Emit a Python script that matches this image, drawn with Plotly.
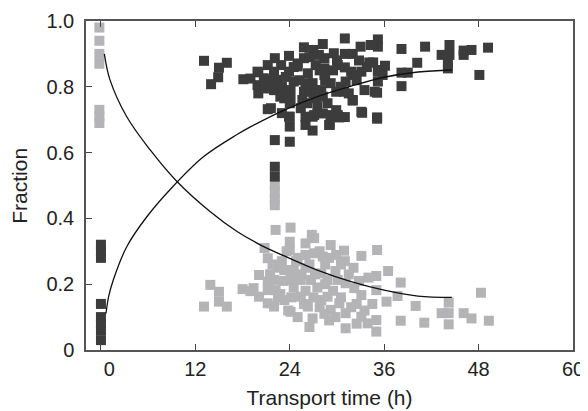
import plotly.graph_objects as go

# Light gray squares (x = transport time in h, y = fraction)
gray_x = [-0.2, -0.2, -0.2, -0.2, -0.2, -0.2, -0.2,
          13.9, 15.0, 13.1, 15.0, 16.0, 18.0, 19.0, 20.1, 20.1, 21.2, 21.2, 21.2, 22.0, 22.2,
          21.2, 22.0, 22.2, 22.1, 22.1, 22.1, 22.1,
          24.1, 24.0, 24.0, 26.0, 27.1, 29.2, 30.9, 35.1, 33.1, 29.9, 26.0, 27.1, 28.2,
          32.1, 35.0, 38.1, 48.3, 19.4, 23.3, 24.5, 24.1, 25.4, 26.7, 28.0, 28.8, 30.1,
          31.1, 32.2, 33.1, 35.0, 36.3, 37.7, 40.0, 44.2, 43.3, 44.2, 46.1, 47.1, 49.3,
          44.2, 41.1, 38.1, 23.3, 24.1, 25.4, 26.3, 26.9, 28.0, 29.2, 30.3, 31.1, 31.1,
          33.1, 33.9, 35.0, 35.0, 28.8,
          23.0, 24.8, 26.5, 22.5, 25.5, 27.5, 24.5, 22.8, 26.0, 29.5, 27.8, 25.0, 29.8,
          31.8, 23.6, 28.5, 31.5, 30.5, 34.0, 36.5, 20.8, 26.8,
          21.8, 23.2, 24.8, 26.0, 27.2, 28.5, 29.8, 31.0, 22.5, 24.2, 25.8, 27.0, 28.4,
          30.5, 32.5, 33.5, 34.5, 29.0, 25.0, 27.8, 32.8, 21.5, 23.8, 26.5, 29.0, 32.5]
gray_y = [0.98, 0.94, 0.90, 0.87, 0.73, 0.71, 0.69,
          0.198, 0.177, 0.132, 0.147, 0.132, 0.185, 0.179, 0.228, 0.162, 0.279, 0.208, 0.182, 0.213, 0.182,
          0.142, 0.132, 0.365, 0.50, 0.48, 0.46, 0.44,
          0.372, 0.329, 0.304, 0.324, 0.340, 0.319, 0.302, 0.304, 0.286, 0.289, 0.289, 0.294, 0.284,
          0.250, 0.225, 0.205, 0.174, 0.188, 0.243, 0.243, 0.213, 0.213, 0.213, 0.233, 0.213, 0.213,
          0.203, 0.188, 0.167, 0.182, 0.147, 0.164, 0.134, 0.144, 0.112, 0.112, 0.112, 0.096, 0.089,
          0.078, 0.083, 0.089, 0.152, 0.116, 0.162, 0.132, 0.096, 0.152, 0.122, 0.142, 0.112, 0.066,
          0.101, 0.081, 0.091, 0.056, 0.162,
          0.27, 0.27, 0.26, 0.25, 0.23, 0.19, 0.19, 0.17, 0.18, 0.18, 0.13, 0.10, 0.10,
          0.13, 0.30, 0.26, 0.23, 0.26, 0.22, 0.24, 0.31, 0.35,
          0.26, 0.21, 0.22, 0.25, 0.23, 0.20, 0.24, 0.27, 0.16, 0.16, 0.14, 0.16, 0.11,
          0.16, 0.14, 0.12, 0.14, 0.28, 0.28, 0.30, 0.21, 0.23, 0.12, 0.07, 0.09, 0.08]

# Dark squares
dark_x = [0.0, 0.0, 0.0, 0.0, 0.0, 0.0, 0.0, 0.0,
          13.1, 16.0, 15.0, 14.9, 14.0, 18.1, 19.0, 20.0, 20.0, 21.2, 22.1, 21.2, 21.6, 21.2,
          19.9, 20.7, 19.9, 20.9, 22.2,
          31.0, 27.0, 33.0, 34.3, 23.9, 29.6, 31.0, 32.0, 25.8, 28.4, 34.1, 22.9, 25.0, 27.3,
          30.1, 31.0, 33.1, 35.2, 22.0, 23.9, 26.3, 28.4, 32.0, 22.4, 24.5, 26.9, 29.2, 31.1,
          35.2, 22.0, 24.1, 25.8, 28.0, 29.9, 34.8, 23.3, 25.6, 27.3, 32.0, 21.6, 25.4, 27.5,
          29.9, 33.1, 23.9, 26.9, 30.3,
          35.2, 35.2, 38.2, 41.2, 44.3, 43.3, 44.3, 46.1, 47.1, 46.1, 49.2, 44.1, 44.1, 40.2,
          36.1, 35.2, 35.8, 38.2, 39.0, 48.1, 38.2, 35.1, 35.1, 34.6,
          32.0, 33.2, 35.1, 31.0, 29.1, 26.9, 24.0, 22.1, 22.1, 22.1, 24.0, 24.0, 26.0, 26.0,
          27.1, 28.2, 29.2, 30.1, 29.0,
          27.7, 28.4, 31.8, 25.0, 26.3, 23.3, 27.1, 30.9, 24.1, 28.2,
          23.0, 24.5, 26.0, 27.0, 28.5, 29.5, 30.5, 32.5, 33.5, 23.5, 25.2, 27.8, 30.0,
          26.5, 24.0, 26.2, 28.8, 31.5, 22.8, 33.8, 32.8, 21.8, 25.8, 28.2, 23.0]
dark_y = [0.32, 0.30, 0.28, 0.14, 0.10, 0.08, 0.06, 0.03,
          0.879, 0.873, 0.858, 0.829, 0.808, 0.823, 0.825, 0.844, 0.780, 0.866, 0.887, 0.821, 0.796, 0.732,
          0.846, 0.826, 0.805, 0.795, 0.790,
          0.947, 0.912, 0.922, 0.927, 0.894, 0.902, 0.900, 0.900, 0.887, 0.887, 0.874, 0.866, 0.871, 0.866,
          0.866, 0.859, 0.846, 0.846, 0.846, 0.846, 0.841, 0.836, 0.836, 0.821, 0.816, 0.811, 0.811, 0.816,
          0.816, 0.790, 0.790, 0.785, 0.790, 0.785, 0.785, 0.765, 0.760, 0.765, 0.760, 0.735, 0.735, 0.740,
          0.729, 0.724, 0.709, 0.709, 0.707,
          0.944, 0.922, 0.915, 0.922, 0.927, 0.897, 0.897, 0.910, 0.912, 0.897, 0.919, 0.871, 0.856, 0.873,
          0.864, 0.851, 0.836, 0.843, 0.843, 0.836, 0.802, 0.782, 0.707, 0.874,
          0.758, 0.721, 0.703, 0.708, 0.685, 0.667, 0.633, 0.638, 0.557, 0.527, 0.709, 0.679, 0.709, 0.684,
          0.714, 0.719, 0.714, 0.714, 0.684,
          0.897, 0.856, 0.846, 0.862, 0.811, 0.780, 0.790, 0.785, 0.760, 0.770,
          0.80, 0.86, 0.80, 0.78, 0.82, 0.85, 0.80, 0.82, 0.79, 0.83, 0.82, 0.85, 0.88,
          0.89, 0.75, 0.75, 0.75, 0.78, 0.77, 0.86, 0.88, 0.81, 0.92, 0.93, 0.72]

# Fitted curves
rise_x = [0.64, 1.0, 1.57, 3.28, 5.83, 8.8, 13.06, 17.3, 19.0, 23.3, 27.5, 31.8, 36.0, 40.3, 44.6]
rise_y = [0.111, 0.165, 0.213, 0.314, 0.405, 0.488, 0.588, 0.655, 0.678, 0.729, 0.770, 0.802, 0.829, 0.845, 0.851]
fall_x = [0.43, 1.15, 3.28, 6.26, 9.66, 13.9, 17.3, 20.3, 23.3, 27.5, 31.8, 36.0, 40.3, 44.6]
fall_y = [0.90, 0.821, 0.709, 0.608, 0.512, 0.42, 0.36, 0.319, 0.286, 0.243, 0.208, 0.182, 0.164, 0.16]

x_ticks = [0, 12, 24, 36, 48, 60]
x_tick_text = ["\u00a0\u00a0\u00a00", "12", "24", "36", "48", "60"]
y_ticks = [0, 0.2, 0.4, 0.6, 0.8, 1.0]
y_tick_text = ["0", "0.2", "0.4", "0.6", "0.8", "1.0"]

fig = go.Figure()
fig.add_trace(go.Scatter(x=gray_x, y=gray_y, mode="markers",
                         marker=dict(symbol="square", size=10, color="#b4b4b6", line=dict(width=0)),
                         showlegend=False))
fig.add_trace(go.Scatter(x=dark_x, y=dark_y, mode="markers",
                         marker=dict(symbol="square", size=10, color="#3c3c3c", line=dict(width=0)),
                         showlegend=False))
fig.add_trace(go.Scatter(x=rise_x, y=rise_y, mode="lines",
                         line=dict(color="#111111", width=1.3, shape="spline"), showlegend=False))
fig.add_trace(go.Scatter(x=fall_x, y=fall_y, mode="lines",
                         line=dict(color="#111111", width=1.3, shape="spline"), showlegend=False))

tick_font = dict(family="Liberation Sans, Arial, sans-serif", size=20, color="#222222")
title_font = dict(family="Liberation Sans, Arial, sans-serif", size=21, color="#222222")
fig.update_layout(
    width=580, height=403,
    margin=dict(l=78, r=15, t=13, b=61),
    paper_bgcolor="white", plot_bgcolor="white",
    font=tick_font,
    xaxis=dict(range=[-1.9, 60], tickvals=x_ticks, ticktext=x_tick_text, ticks="inside", ticklen=6,
               tickcolor="#444", showline=True, linecolor="#555555", linewidth=1.5, mirror="ticks",
               showgrid=False, zeroline=False, tickfont=tick_font, automargin=False,
               ticklabelstandoff=0,
               title=dict(text="Transport time (h)", font=title_font, standoff=12)),
    yaxis=dict(range=[0, 1.0], tickvals=y_ticks, ticktext=y_tick_text, ticks="inside", ticklen=6,
               tickcolor="#444", showline=True, linecolor="#555555", linewidth=1.5, mirror=True,
               showgrid=False, zeroline=False, tickfont=tick_font, ticklabelstandoff=6,
               automargin=False),
    annotations=[dict(text="Fraction", textangle=-90, xref="paper", yref="paper",
                      x=-0.137, y=0.5, xanchor="center", yanchor="middle",
                      showarrow=False, font=title_font)],
)
fig.write_html("out.html")
